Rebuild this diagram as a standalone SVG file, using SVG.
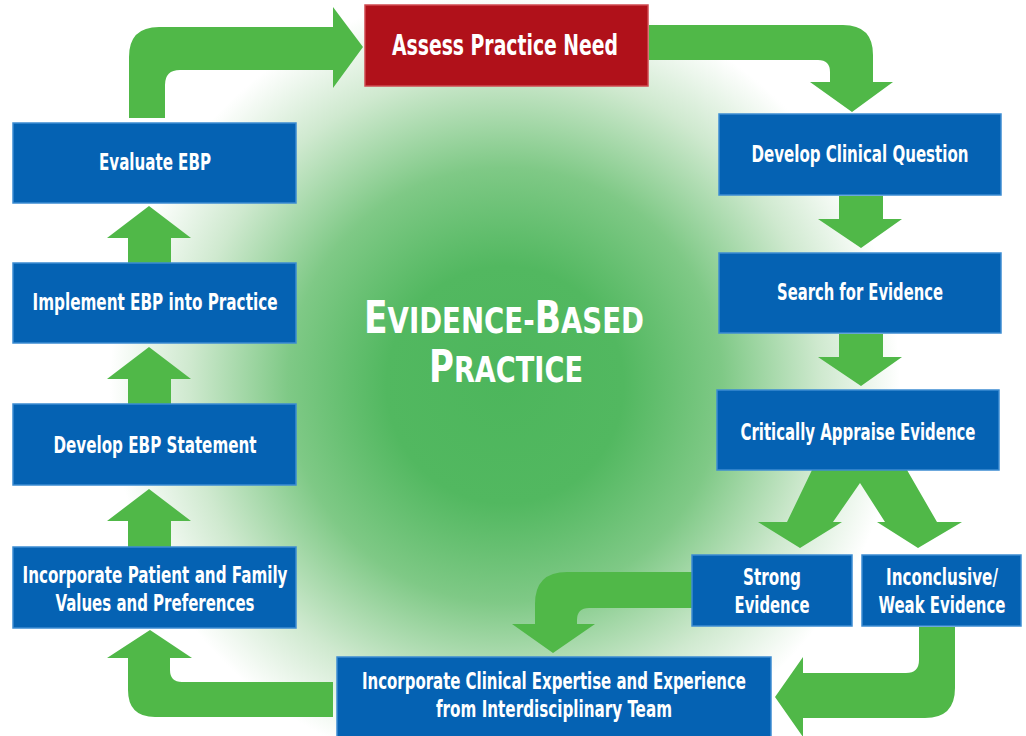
<svg xmlns="http://www.w3.org/2000/svg" width="1026" height="736" viewBox="0 0 1026 736">
<defs>
<radialGradient id="bg" gradientUnits="userSpaceOnUse" cx="505" cy="385" r="395">
<stop offset="0" stop-color="#4db65c"/>
<stop offset="0.3" stop-color="#52b860"/>
<stop offset="0.55" stop-color="#7fc986"/>
<stop offset="0.8" stop-color="#cfe9cf"/>
<stop offset="1" stop-color="#ffffff"/>
</radialGradient>
<style>
.box{fill:#0562b3;stroke:#3c8cd2;stroke-width:1.5}
.red{fill:#b0111a;stroke:#cf4a50;stroke-width:1.5}
.lbl{fill:#ffffff;font-family:"Liberation Sans Narrow","DejaVu Sans Condensed","Liberation Sans",sans-serif;font-weight:bold;font-size:23px;text-anchor:middle}
.big{font-size:29px}
.arrow{fill:#50b848}
.title{fill:#ffffff;font-family:"Liberation Sans Narrow","DejaVu Sans Condensed","Liberation Sans",sans-serif;font-weight:bold;text-anchor:middle}
</style>
</defs>
<rect width="1026" height="736" fill="#ffffff"/>
<rect width="1026" height="736" fill="url(#bg)"/>

<g id="connectors">
<path class="arrow" d="M129,118 L129,57 Q129,27 159,27 L333,27 L333,7 L363,47 L333,88 L333,70 L180,70 Q165,70 165,85 L165,118 Z"/>
<path class="arrow" d="M649,25 L843,25 Q873,25 873,55 L873,82 L893,82 L852,112 L810,82 L830,82 L830,72 Q830,60 818,60 L649,60 Z"/>
<path class="arrow" d="M839,196 L883,196 L883,219 L902,219 L861,248 L818,219 L839,219 Z"/>
<path class="arrow" d="M839,334 L883,334 L883,357 L902,357 L861,386 L818,357 L839,357 Z"/>
<path class="arrow" d="M812,470 L907,470 L937,522 L962,522 L918,548 L877,522 L885,522 L860,483 L833,522 L842,522 L800,548 L758,522 L787,522 Z"/>
<path class="arrow" d="M692,572 L567,572 Q535,572 535,604 L535,624 L512,624 L553,653 L595,624 L577,624 L577,620 Q577,608 589,608 L692,608 Z"/>
<path class="arrow" d="M919,627 L919,660 Q919,673 906,673 L803,673 L803,657 L775,697 L803,737 L803,718 L925,718 Q955,718 955,688 L955,627 Z"/>
<path class="arrow" d="M333,682 L182,682 Q170,682 170,670 L170,658 L192,658 L150,630 L107,658 L128,658 L128,690 Q128,717 155,717 L333,717 Z"/>
<path class="arrow" d="M128,263 L128,238 L107,238 L149,206 L191,238 L171,238 L171,263 Z"/>
<path class="arrow" d="M128,404 L128,379 L107,379 L149,347 L191,379 L171,379 L171,404 Z"/>
<path class="arrow" d="M128,547 L128,521 L107,521 L149,489 L191,521 L171,521 L171,547 Z"/>
</g>

<g id="title">
<text class="title" x="504" y="333" textLength="280" lengthAdjust="spacingAndGlyphs"><tspan font-size="45">E</tspan><tspan font-size="36">VIDENCE-</tspan><tspan font-size="45">B</tspan><tspan font-size="36">ASED</tspan></text>
<text class="title" x="506" y="382" textLength="154" lengthAdjust="spacingAndGlyphs"><tspan font-size="45">P</tspan><tspan font-size="36">RACTICE</tspan></text>
</g>

<g id="assess">
<rect class="red" x="365" y="5" width="283" height="81"/>
<text class="lbl big" x="505" y="55" textLength="226" lengthAdjust="spacingAndGlyphs">Assess Practice Need</text>
</g>

<g id="develop-question">
<rect class="box" x="719" y="114" width="282" height="81"/>
<text class="lbl" x="860" y="162" textLength="217" lengthAdjust="spacingAndGlyphs">Develop Clinical Question</text>
</g>

<g id="search">
<rect class="box" x="719" y="253" width="282" height="80"/>
<text class="lbl" x="860" y="300" textLength="166" lengthAdjust="spacingAndGlyphs">Search for Evidence</text>
</g>

<g id="appraise">
<rect class="box" x="717" y="390" width="282" height="80"/>
<text class="lbl" x="858" y="440" textLength="235" lengthAdjust="spacingAndGlyphs">Critically Appraise Evidence</text>
</g>

<g id="strong">
<rect class="box" x="692" y="555" width="160" height="71"/>
<text class="lbl" x="772" y="585" textLength="58" lengthAdjust="spacingAndGlyphs">Strong</text>
<text class="lbl" x="772" y="613" textLength="75" lengthAdjust="spacingAndGlyphs">Evidence</text>
</g>

<g id="weak">
<rect class="box" x="862" y="555" width="159" height="71"/>
<text class="lbl" x="942" y="585" textLength="112" lengthAdjust="spacingAndGlyphs">Inconclusive/</text>
<text class="lbl" x="942" y="613" textLength="127" lengthAdjust="spacingAndGlyphs">Weak Evidence</text>
</g>

<g id="clinical-expertise">
<rect class="box" x="337" y="657" width="434" height="85"/>
<text class="lbl" x="554" y="689" textLength="384" lengthAdjust="spacingAndGlyphs">Incorporate Clinical Expertise and Experience</text>
<text class="lbl" x="554" y="717" textLength="236" lengthAdjust="spacingAndGlyphs">from Interdisciplinary Team</text>
</g>

<g id="patient-values">
<rect class="box" x="13" y="547" width="283" height="81"/>
<text class="lbl" x="155" y="583" textLength="265" lengthAdjust="spacingAndGlyphs">Incorporate Patient and Family</text>
<text class="lbl" x="155" y="611" textLength="199" lengthAdjust="spacingAndGlyphs">Values and Preferences</text>
</g>

<g id="ebp-statement">
<rect class="box" x="13" y="404" width="283" height="81"/>
<text class="lbl" x="155" y="453" textLength="203" lengthAdjust="spacingAndGlyphs">Develop EBP Statement</text>
</g>

<g id="implement">
<rect class="box" x="13" y="263" width="283" height="80"/>
<text class="lbl" x="155" y="310" textLength="245" lengthAdjust="spacingAndGlyphs">Implement EBP into Practice</text>
</g>

<g id="evaluate">
<rect class="box" x="13" y="123" width="283" height="80"/>
<text class="lbl" x="155" y="170" textLength="112" lengthAdjust="spacingAndGlyphs">Evaluate EBP</text>
</g>
</svg>
